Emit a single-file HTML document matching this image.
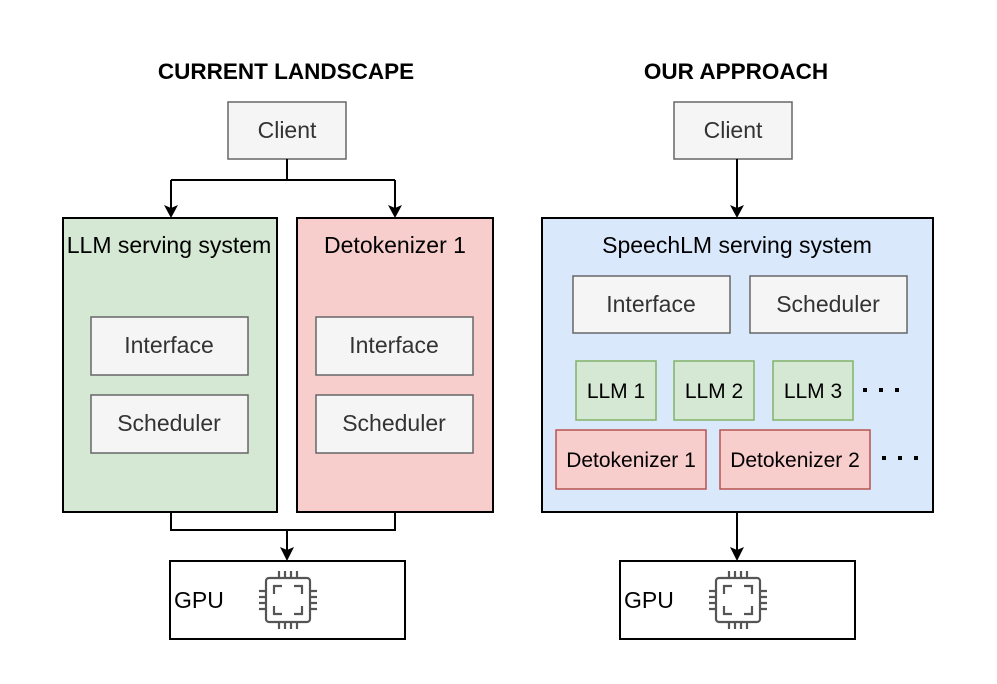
<!DOCTYPE html>
<html><head><meta charset="utf-8"><style>html,body{margin:0;padding:0;background:#fff}svg{display:block}</style></head>
<body>
<svg width="997" height="684" viewBox="0 0 997 684" xmlns="http://www.w3.org/2000/svg" font-family="'Liberation Sans', Arial, sans-serif">
<defs>
<g id="chip" fill="none" stroke="#555" stroke-width="2.2">
<rect x="-22" y="-22" width="44" height="44" rx="3"/>
<path d="M-14 -6 V-14 H-6 M6 -14 H14 V-6 M14 6 V14 H6 M-6 14 H-14 V6"/>
<path d="M-9 -22 v-7 M-3 -22 v-7 M3 -22 v-7 M9 -22 v-7 M-9 22 v7 M-3 22 v7 M3 22 v7 M9 22 v7 M-22 -9 h-7 M-22 -3 h-7 M-22 3 h-7 M-22 9 h-7 M22 -9 h7 M22 -3 h7 M22 3 h7 M22 9 h7"/>
</g>
</defs>
<g font-size="23" text-anchor="middle">
<text x="286" y="79" font-weight="bold" font-size="22.5">CURRENT LANDSCAPE</text>
<text x="736" y="79" font-weight="bold" font-size="22.5">OUR APPROACH</text>

<rect x="228" y="102" width="118" height="57" fill="#f5f5f5" stroke="#666" stroke-width="1.5"/>
<text x="287" y="138" fill="#333">Client</text>
<path d="M287 159 V180 M171 180 H395 M171 180 V208 M395 180 V208" stroke="#000" stroke-width="2" fill="none"/>
<path d="M164 205 L171 218 L178 205 L171 208 Z M388 205 L395 218 L402 205 L395 208 Z" fill="#000"/>
<rect x="63" y="218" width="214" height="294" fill="#d5e8d4" stroke="#000" stroke-width="2"/>
<text x="169" y="253">LLM serving system</text>
<rect x="297" y="218" width="196" height="294" fill="#f8cecc" stroke="#000" stroke-width="2"/>
<text x="395" y="253">Detokenizer 1</text>
<rect x="91" y="317" width="157" height="58" fill="#f5f5f5" stroke="#666" stroke-width="1.5"/>
<text x="169" y="353" fill="#333">Interface</text>
<rect x="91" y="395" width="157" height="58" fill="#f5f5f5" stroke="#666" stroke-width="1.5"/>
<text x="169" y="431" fill="#333">Scheduler</text>
<rect x="316" y="317" width="157" height="58" fill="#f5f5f5" stroke="#666" stroke-width="1.5"/>
<text x="394" y="353" fill="#333">Interface</text>
<rect x="316" y="395" width="157" height="58" fill="#f5f5f5" stroke="#666" stroke-width="1.5"/>
<text x="394" y="431" fill="#333">Scheduler</text>
<path d="M171 512 V530 H395 V512 M287 530 V550" stroke="#000" stroke-width="2" fill="none"/>
<path d="M280 547 L287 561 L294 547 L287 550 Z" fill="#000"/>
<rect x="170" y="561" width="235" height="78" fill="#fff" stroke="#000" stroke-width="2"/>
<text x="174" y="608" text-anchor="start">GPU</text>
<use href="#chip" x="288" y="600"/>

<rect x="674" y="102" width="118" height="57" fill="#f5f5f5" stroke="#666" stroke-width="1.5"/>
<text x="733" y="138" fill="#333">Client</text>
<path d="M737 159 V208" stroke="#000" stroke-width="2"/>
<path d="M730 205 L737 218 L744 205 L737 208 Z" fill="#000"/>
<rect x="542" y="218" width="391" height="294" fill="#dae8fc" stroke="#000" stroke-width="2"/>
<text x="737" y="253">SpeechLM serving system</text>
<rect x="573" y="276" width="157" height="57" fill="#f5f5f5" stroke="#666" stroke-width="1.5"/>
<text x="651" y="312" fill="#333">Interface</text>
<rect x="750" y="276" width="157" height="57" fill="#f5f5f5" stroke="#666" stroke-width="1.5"/>
<text x="828" y="312" fill="#333">Scheduler</text>
<g font-size="21">
<rect x="576" y="361" width="80" height="59" fill="#d5e8d4" stroke="#82b366" stroke-width="1.5"/>
<text x="616" y="398">LLM 1</text>
<rect x="674" y="361" width="80" height="59" fill="#d5e8d4" stroke="#82b366" stroke-width="1.5"/>
<text x="714" y="398">LLM 2</text>
<rect x="773" y="361" width="80" height="59" fill="#d5e8d4" stroke="#82b366" stroke-width="1.5"/>
<text x="813" y="398">LLM 3</text>
<rect x="556" y="430" width="150" height="59" fill="#f8cecc" stroke="#b85450" stroke-width="1.5"/>
<text x="631" y="467">Detokenizer 1</text>
<rect x="720" y="430" width="150" height="59" fill="#f8cecc" stroke="#b85450" stroke-width="1.5"/>
<text x="795" y="467">Detokenizer 2</text>
</g>
<g fill="#000">
<rect x="863" y="388" width="4" height="4"/><rect x="879" y="388" width="4" height="4"/><rect x="895" y="388" width="4" height="4"/>
<rect x="882" y="456" width="4" height="4"/><rect x="898" y="456" width="4" height="4"/><rect x="914" y="456" width="4" height="4"/>
</g>
<path d="M737 512 V550" stroke="#000" stroke-width="2"/>
<path d="M730 547 L737 561 L744 547 L737 550 Z" fill="#000"/>
<rect x="620" y="561" width="235" height="78" fill="#fff" stroke="#000" stroke-width="2"/>
<text x="624" y="608" text-anchor="start">GPU</text>
<use href="#chip" x="738" y="600"/>
</g>
</svg>
</body></html>
